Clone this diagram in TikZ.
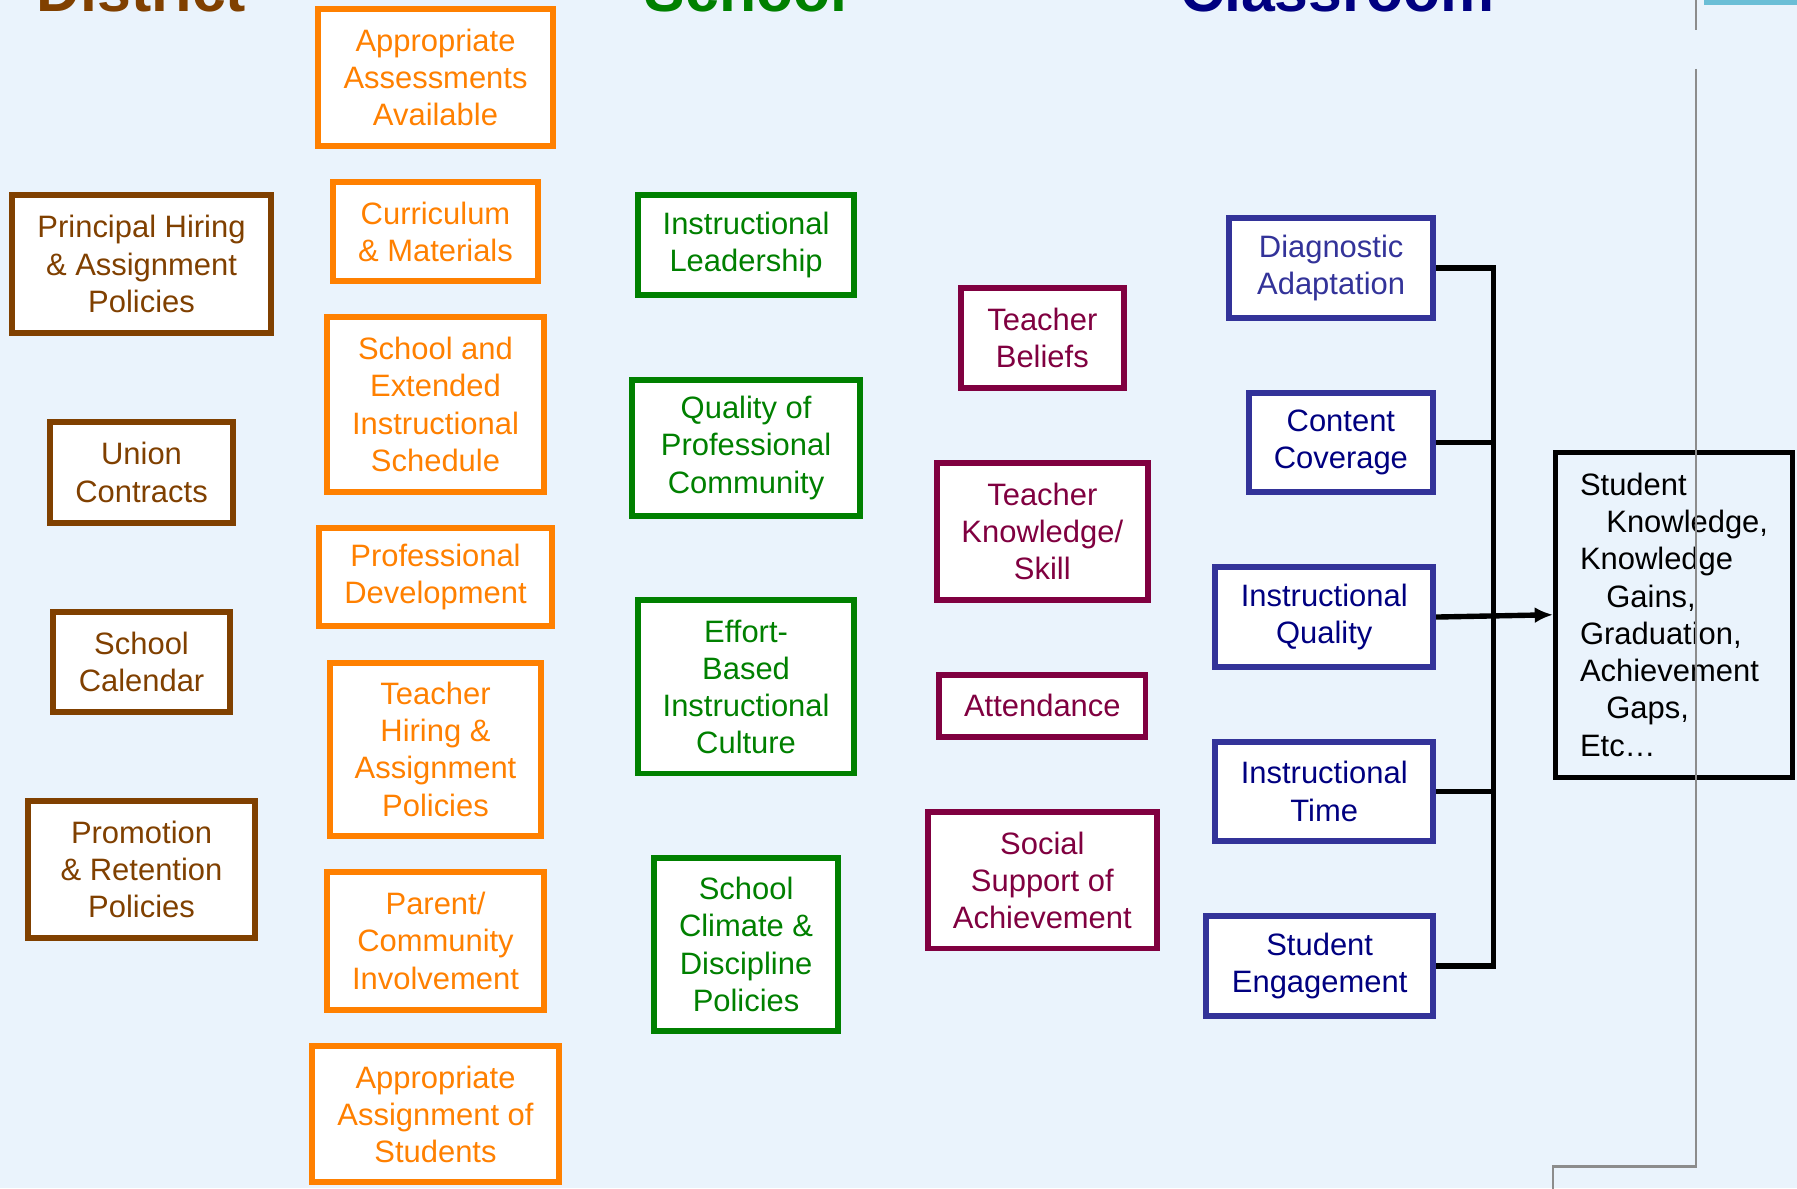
\documentclass[tikz,border=0pt]{standalone}
\usepackage{fontspec}
\setmainfont{Liberation Sans}
\usepackage{tikz}
\usepackage{xcolor}
\usetikzlibrary{shapes,arrows.meta,positioning}

\definecolor{bgblue}{RGB}{234,243,252}
\definecolor{distbrown}{RGB}{128,64,0}
\definecolor{resorange}{RGB}{255,128,0}
\definecolor{schgreen}{RGB}{0,128,0}
\definecolor{teachred}{RGB}{128,0,64}
\definecolor{classblue}{RGB}{51,51,153}
\definecolor{classnavy}{RGB}{0,0,128}
\definecolor{rulegray}{RGB}{140,140,140}
\definecolor{barcyan}{RGB}{107,190,214}

\newcommand{\blockfont}{\fontsize{27}{32.5}\selectfont}
\newcommand{\headfont}{\fontsize{53}{60}\selectfont\bfseries}

\tikzset{
	factor/.style={rectangle, draw, fill=white, line width=5.2pt, inner sep=0pt, align=center, font=\blockfont},
	distbox/.style={factor, draw=distbrown, text=distbrown},
	resbox/.style={factor, draw=resorange, text=resorange},
	schbox/.style={factor, draw=schgreen, text=schgreen},
	teachbox/.style={factor, draw=teachred, text=teachred},
	classbox/.style={factor, draw=classblue, text=classnavy, minimum height=87pt},
	bus/.style={line width=4.7pt},
	sideline/.style={draw=rulegray, line width=2.3pt}
}

\begin{document}
\begin{tikzpicture}[x=1pt, y=-1pt]
				\clip (0,0) rectangle (1568,1037);
				\fill[bgblue] (0,0) rectangle (1568,1037);
				
				\node[anchor=base, font=\headfont, text=distbrown] (hdist) at (123.5,10) {District};
				\node[anchor=base, font=\headfont, text=schgreen] (hschool) at (651,10) {School};
				\node[anchor=base, font=\headfont, text=classnavy] (hclass) at (1167,10) {Classroom};
				
				\node[distbox, minimum width=226pt, minimum height=120pt] (phire) at (123.5,230.5) {Principal Hiring\\\& Assignment\\Policies};
				\node[distbox, below=72.5pt of phire, minimum width=160pt, minimum height=88pt] (union) {Union\\Contracts};
				\node[distbox, below=72.5pt of union, minimum width=154pt, minimum height=87pt] (calend) {School\\Calendar};
				\node[distbox, below=72.5pt of calend, minimum width=198pt, minimum height=120pt] (promo) {Promotion\\\& Retention\\Policies};
				
				\node[resbox, minimum width=205pt, minimum height=120pt] (assess) at (380,67.5) {Appropriate\\Assessments\\Available};
				\node[resbox, below=26.5pt of assess, minimum width=179pt, minimum height=86pt] (curric) {Curriculum\\\& Materials};
				\node[resbox, below=26.5pt of curric, minimum width=189pt, minimum height=152pt] (sched) {School and\\Extended\\Instructional\\Schedule};
				\node[resbox, below=26.5pt of sched, minimum width=203pt, minimum height=86pt] (profdev) {Professional\\Development};
				\node[resbox, below=26.5pt of profdev, minimum width=184pt, minimum height=151pt] (thire) {Teacher\\Hiring \&\\Assignment\\Policies};
				\node[resbox, below=26.5pt of thire, minimum width=189pt, minimum height=120pt] (parent) {Parent/\\Community\\Involvement};
				\node[resbox, below=26.5pt of parent, minimum width=216pt, minimum height=119pt] (assign) {Appropriate\\Assignment of\\Students};
				
				\node[schbox, minimum width=189pt, minimum height=87pt] (lead) at (651,214) {Instructional\\Leadership};
				\node[schbox, below=68.5pt of lead, minimum width=199pt, minimum height=119pt] (qpc) {Quality of\\Professional\\Community};
				\node[schbox, below=68.5pt of qpc, minimum width=189pt, minimum height=151pt] (effort) {Effort-\\Based\\Instructional\\Culture};
				\node[schbox, below=68.5pt of effort, minimum width=161pt, minimum height=151pt] (climate) {School\\Climate \&\\Discipline\\Policies};
				
				\node[teachbox, minimum width=142pt, minimum height=87pt] (beliefs) at (909.5,295) {Teacher\\Beliefs};
				\node[teachbox, below=60.5pt of beliefs, minimum width=184pt, minimum height=119pt] (know) {Teacher\\Knowledge/\\Skill};
				\node[teachbox, below=60.5pt of know, minimum width=180pt, minimum height=54pt] (attend) {Attendance};
				\node[teachbox, below=60.5pt of attend, minimum width=200pt, minimum height=119pt] (social) {Social\\Support of\\Achievement};
				
				\node[classbox, text=classblue, minimum width=178pt] (diag) at (1161.5,234) {Diagnostic\\Adaptation};
				\node[classbox, below=60pt of diag.south east, anchor=north east, minimum width=161pt] (cover) {Content\\Coverage};
				\node[classbox, below=60pt of cover.south east, anchor=north east, minimum width=190pt] (iqual) {Instructional\\Quality};
				\node[classbox, below=60pt of iqual.south east, anchor=north east, minimum width=190pt] (itime) {Instructional\\Time};
				\node[classbox, below=60pt of itime.south east, anchor=north east, minimum width=198pt] (seng) {Student\\Engagement};
				
				\node[rectangle, draw, line width=4.7pt, right=102pt of iqual, yshift=2pt, minimum width=206.5pt, minimum height=283.5pt, align=left, font=\blockfont] (result) {Student\\\hspace*{23pt}Knowledge,\\Knowledge\\\hspace*{23pt}Gains,\\Graduation,\\Achievement\\\hspace*{23pt}Gaps,\\Etc…};
				
				\draw[bus] (diag.east) -- ++(50,0) |- (seng.east);
				\draw[bus] (cover.east) -- ++(50,0);
				\draw[bus] (itime.east) -- ++(50,0);
				\draw[bus, -{Latex[length=16pt, width=14pt]}] (iqual.east) -- (result.west);
				
				\draw[sideline] (1480,-2) -- (1480,26);
				\draw[sideline] (1480,60) -- (1480,1018) -- (1355,1018) -- (1355,1040);
				\fill[barcyan] (1487,0) rectangle (1570,4.4);
			\end{tikzpicture}
\end{document}
